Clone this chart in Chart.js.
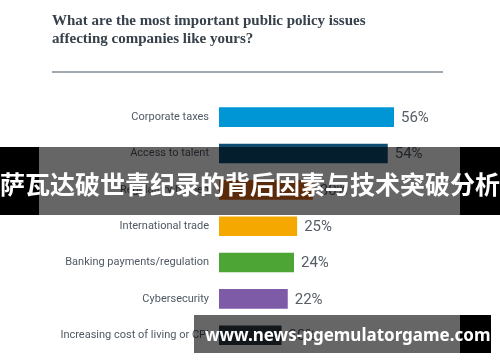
<!DOCTYPE html>
<html>
<head>
<meta charset="utf-8">
<script src="https://cdn.jsdelivr.net/npm/chart.js@4"></script>
<style>
  html, body { margin: 0; padding: 0; background: #fff; }
  #wrap { position: relative; width: 500px; height: 362px; overflow: hidden; }
  #chart { position: absolute; left: 0; top: 0; }
  .title {
    position: absolute; left: 52px; top: 11px;
    font: bold 15px "Liberation Serif", serif; line-height: 18px;
    color: #36414b;
  }
  .rule { position: absolute; left: 52px; top: 71px; width: 391px; height: 2px; background: #a0a8b0; }
  .band { position: absolute; left: 0; top: 147px; width: 500px; height: 68px;
    background: linear-gradient(to right, #000 0 39px, rgba(0,0,0,0.6) 39px 460px, #000 460px); }
  .band span { position: absolute; left: 0; width: 500px; top: 21px; text-align: center;
    font: bold 25px "Noto Sans CJK SC", sans-serif; line-height: 30px; color: #fff; white-space: nowrap; }
  .mark { position: absolute; left: 194px; top: 315px; width: 297px; height: 38px;
    background: linear-gradient(to right, rgba(0,0,0,0.6) 0 266px, #000 266px); }
  .mark span { position: absolute; left: 11px; top: 8px; font: bold 17px "Noto Sans", sans-serif;
    line-height: 24px; color: #fff; white-space: nowrap; }
</style>
</head>
<body>
<div id="wrap">
  <canvas id="chart" width="500" height="362"></canvas>
  <div class="title">What are the most important public policy issues<br>affecting companies like yours?</div>
  <div class="rule"></div>
  <div class="band"><span>萨瓦达破世青纪录的背后因素与技术突破分析</span></div>
  <div class="mark"><span>www.news-pgemulatorgame.com</span></div>
</div>
<script>
const issues = [
  'Corporate taxes',
  'Access to talent',
  'Regulatory burden',
  'International trade',
  'Banking payments/regulation',
  'Cybersecurity',
  'Increasing cost of living or CPI'
];
const shares = [56, 54, 30, 25, 24, 22, 20];
const barColors = ['#0096d6', '#0e4d70', '#e06a1a', '#f5a800', '#4ca535', '#7d5ba6', '#2e3a45'];

// etiquetas de valor a la derecha de cada barra
const valueLabels = {
  id: 'valueLabels',
  afterDatasetsDraw(chart) {
    const ctx = chart.ctx;
    const meta = chart.getDatasetMeta(0);
    ctx.save();
    ctx.font = '15px Roboto, sans-serif';
    ctx.fillStyle = '#555d66';
    ctx.textAlign = 'left';
    ctx.textBaseline = 'middle';
    meta.data.forEach((bar, i) => {
      ctx.fillText(shares[i] + '%', bar.x + 7, bar.y + 1);
    });
    ctx.restore();
  }
};

new Chart(document.getElementById('chart'), {
  type: 'bar',
  data: {
    labels: issues,
    datasets: [{
      data: shares,
      backgroundColor: barColors,
      borderWidth: 0,
      categoryPercentage: 1,
      barPercentage: 0.54
    }]
  },
  options: {
    indexAxis: 'y',
    responsive: false,
    animation: false,
    layout: { padding: { top: 99, bottom: -6, right: 31, left: 0 } },
    scales: {
      x: {
        min: 0, max: 80,
        display: false
      },
      y: {
        afterFit(scale) { scale.width = 219; },
        grid: { display: false },
        border: { display: false },
        ticks: {
          color: '#4f5963',
          padding: 2,
          font: { family: 'Roboto', size: 11 }
        }
      }
    },
    plugins: {
      legend: { display: false },
      tooltip: { enabled: false }
    }
  },
  plugins: [valueLabels]
});
</script>
</body>
</html>
